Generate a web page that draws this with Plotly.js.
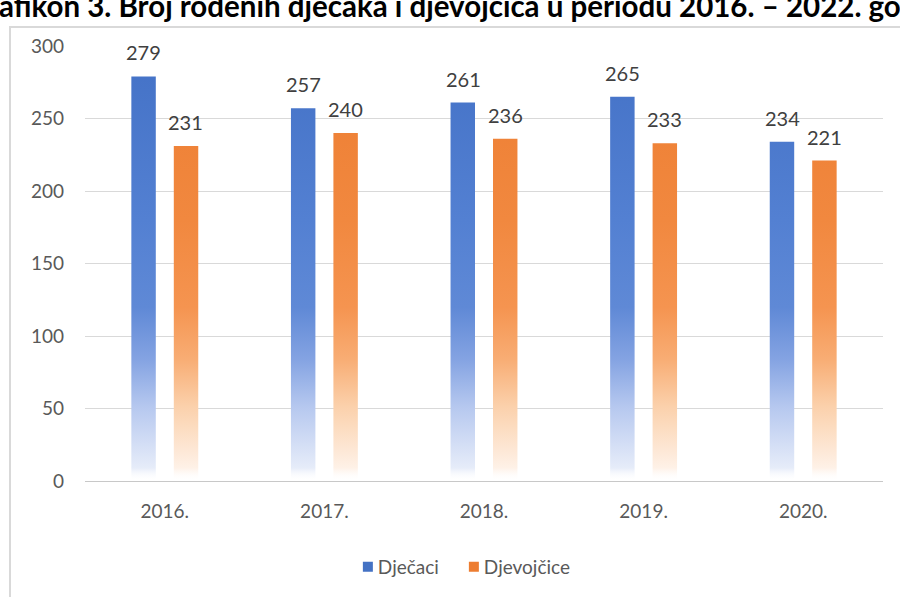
<!DOCTYPE html>
<html>
<head>
<meta charset="utf-8">
<script src="https://cdn.plot.ly/plotly-3.0.1.min.js"></script>
<style>
  html, body { margin: 0; padding: 0; background: #ffffff; }
  #chart { width: 900px; height: 597px; }
</style>
</head>
<body>
<div id="chart"></div>
<script>
// ---- data ----
const years = ['2016.', '2017.', '2018.', '2019.', '2020.'];
const seriesNames = ['Dječaci', 'Djevojčice'];
const boys = [279, 257, 261, 265, 234];
const girls = [231, 240, 236, 233, 221];
const yTicks = [0, 50, 100, 150, 200, 250, 300];
const titleText = 'Grafikon 3. Broj rođenih dječaka i djevojčica u periodu 2016. – 2022. godine';

// ---- style ----
const BLUE = '#4472C4';
const ORANGE = '#ED7D31';
const FONT = 'Lato, "Open Sans", "Liberation Sans", sans-serif';
const L = 85, R = 17, T = 46, B = 115, W = 900, H = 597;
const plotW = W - L - R, plotH = H - T - B;

// title: the original is cropped at the page edges; size it so the same part shows
const cv = document.createElement('canvas').getContext('2d');
cv.font = 'bold 28px Lato';
const visW28 = cv.measureText('afikon 3. Broj rođenih dječaka i djevojčica u periodu 2016. – 2022. go').width;
const titleFontSize = Math.round(28 * 902 / visW28 * 10) / 10;
cv.font = 'bold ' + titleFontSize + 'px Lato';
const prefixW = cv.measureText('Gr').width;
const titleX = (-prefixW - 3 - L) / plotW;

const traces = [
  {
    type: 'bar', name: seriesNames[0], x: years, y: boys,
    marker: { color: BLUE, line: { width: 0 } }
  },
  {
    type: 'bar', name: seriesNames[1], x: years, y: girls,
    marker: { color: ORANGE, line: { width: 0 } }
  }
];

// value labels above the bars (x given as category index)
const annotations = [];
[boys, girls].forEach((vals, si) => {
  vals.forEach((v, i) => {
    annotations.push({
      x: i, y: v, xref: 'x', yref: 'y',
      text: String(v), showarrow: false,
      xshift: si === 0 ? -21 : 21, yshift: 24,
      yanchor: 'middle', xanchor: 'center',
      font: { family: FONT, size: 20, color: '#404040' }
    });
  });
});
annotations.push({
  text: titleText, xref: 'paper', yref: 'paper',
  x: titleX, y: (H - B - 5) / plotH,
  xanchor: 'left', yanchor: 'middle', showarrow: false,
  font: { family: 'Lato, sans-serif', size: titleFontSize, color: '#000000', weight: 'bold' }
});

const layout = {
  width: W, height: H,
  margin: { l: L, r: R, t: T, b: B, pad: 0 },
  paper_bgcolor: '#ffffff', plot_bgcolor: '#ffffff',
  showlegend: true,
  barmode: 'group', bargap: 0.468, bargroupgap: 0.424,
  font: { family: FONT, color: '#595959', size: 19 },
  xaxis: {
    type: 'category', range: [-0.5, years.length - 0.5], autorange: false,
    showgrid: false, zeroline: false,
    showline: true, linecolor: '#c8c8c8', linewidth: 1,
    ticks: '', ticklabelstandoff: 13,
    tickfont: { family: FONT, size: 19, color: '#595959' }
  },
  yaxis: {
    range: [0, 300], autorange: false, tickvals: yTicks, ticktext: yTicks.map(String),
    showgrid: true, gridcolor: '#d9d9d9', gridwidth: 1, zeroline: false,
    showline: false, ticks: '', ticklabelstandoff: 20,
    tickfont: { family: FONT, size: 19, color: '#595959' }
  },
  legend: {
    orientation: 'h', x: 0.466, xanchor: 'center', y: -0.195, yanchor: 'middle',
    font: { family: FONT, size: 19, color: '#595959' },
    itemwidth: 30, traceorder: 'normal'
  },
  annotations: annotations,
  shapes: [{
    type: 'rect', xref: 'paper', yref: 'paper', layer: 'below',
    x0: (10 - L) / plotW, x1: (910 - L) / plotW,
    y0: (H - B - 610) / plotH, y1: (H - B - 27) / plotH,
    line: { color: '#d9d9d9', width: 2 }, fillcolor: 'rgba(0,0,0,0)'
  }]
};

function addGradients(gd) {
  const svg = gd.querySelector('.main-svg');
  if (!svg) return;
  const defs = svg.querySelector('defs');
  const NS = 'http://www.w3.org/2000/svg';
  const ya = gd._fullLayout.yaxis;
  const y0 = ya.c2p(0), y1 = ya.c2p(300);
  const specs = [
    { id: 'gradBoys', stops: [[0, '#ffffff', 0], [0.03, '#e6ecf9', 1], [0.17, '#b6c8ef', 1], [0.28, '#84a3e2', 1], [0.40, '#5f89d6', 1], [0.6, '#5380d2', 1], [1, '#4371c6', 1]] },
    { id: 'gradGirls', stops: [[0, '#ffffff', 0], [0.03, '#fef1e7', 1], [0.17, '#fbd1ac', 1], [0.28, '#f8ad74', 1], [0.40, '#f59450', 1], [0.6, '#f1883f', 1], [1, '#ED7D31', 1]] }
  ];
  specs.forEach(s => {
    let g = svg.querySelector('#' + s.id);
    if (g) g.remove();
    g = document.createElementNS(NS, 'linearGradient');
    g.setAttribute('id', s.id);
    g.setAttribute('gradientUnits', 'userSpaceOnUse');
    g.setAttribute('x1', 0); g.setAttribute('x2', 0);
    g.setAttribute('y1', y0); g.setAttribute('y2', y1);
    s.stops.forEach(st => {
      const stop = document.createElementNS(NS, 'stop');
      stop.setAttribute('offset', st[0]);
      stop.setAttribute('stop-color', st[1]);
      stop.setAttribute('stop-opacity', st[2]);
      g.appendChild(stop);
    });
    defs.appendChild(g);
  });
  gd.querySelectorAll('.barlayer .trace.bars').forEach((tg, i) => {
    const id = i === 0 ? 'gradBoys' : 'gradGirls';
    tg.querySelectorAll('path').forEach(p => { p.style.fill = 'url(#' + id + ')'; });
  });
  // small legend squares sitting close to their text, like the original
  gd.querySelectorAll('.legend .legendpoints path').forEach(p => {
    p.setAttribute('d', 'M15,5H5V-5H15Z');
  });
}

const gd = document.getElementById('chart');
Plotly.newPlot(gd, traces, layout, { displayModeBar: false, staticPlot: true }).then(() => {
  addGradients(gd);
});
</script>
</body>
</html>
